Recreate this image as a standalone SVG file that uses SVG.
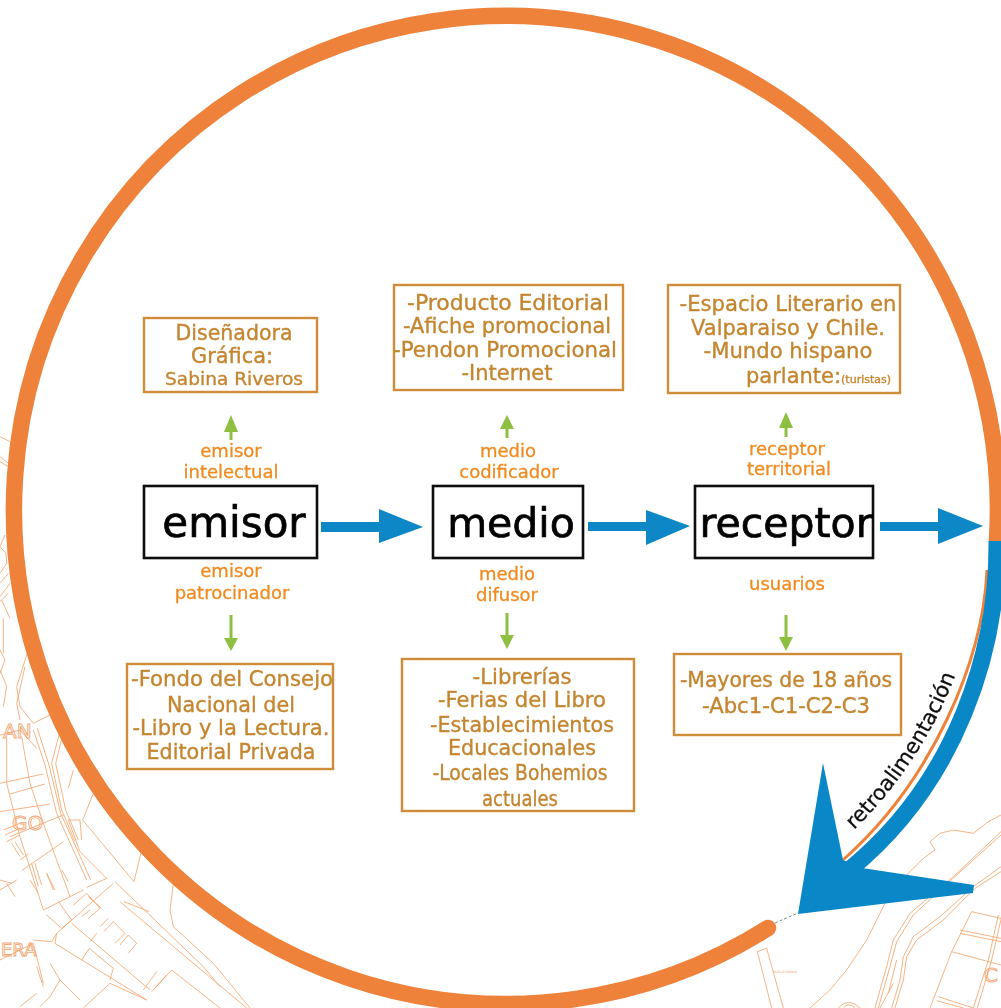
<svg xmlns="http://www.w3.org/2000/svg" width="1001" height="1008" viewBox="0 0 1001 1008">
<defs>
<filter id="soft" x="-5%" y="-5%" width="110%" height="110%"><feGaussianBlur stdDeviation="0.6"/></filter>
<filter id="softer" x="-5%" y="-5%" width="110%" height="110%"><feGaussianBlur stdDeviation="0.3"/></filter>
</defs>
<style>
text{font-family:"DejaVu Sans","Liberation Sans",sans-serif;}
.box{fill:#fff;stroke:#d08c38;stroke-width:2.4;}
.main{fill:#fff;stroke:#111;stroke-width:2.6;}
.t{fill:#c4852f;stroke:#c4852f;stroke-width:.35;font-size:21px;text-anchor:middle;}
.l{fill:#f08a1e;stroke:#f08a1e;stroke-width:.3;font-size:18px;text-anchor:middle;}
.n{fill:#000;stroke:#000;stroke-width:.7;font-size:42px;text-anchor:middle;}
.map path{fill:none;stroke:#f3a873;stroke-width:2.6;}
.mt{fill:none;stroke:#f3a873;stroke-width:.9;}
.gs{fill:none;stroke:#8fbf3f;stroke-width:3;}
.gh{fill:#8fbf3f;}
.blue{fill:#0a87c6;}
</style>
<rect width="1001" height="1008" fill="#fff"/>
<g id="map" class="map">
<g transform="translate(0 650) scale(.33333)">
<path d="M85 0L50 110L60 170L100 220L150 195M0 255L60 240L110 295M100 240L135 345L170 490L220 600L260 690M112 235L147 345L182 490L232 600L272 690"/>
<path d="M178 250L155 340L185 480L225 575M188 255L167 340L197 480L235 570"/>
<path d="M20 260L20 400L60 560L130 780M65 260L90 400L130 520L210 740M0 400L130 372M30 432L135 402M0 485L150 462M30 560L190 495M65 662L190 575M130 780L250 720M260 712L320 685L240 605L205 510L240 510L245 570"/>
<path d="M280 430L248 510L402 695L425 600M520 700L510 780L520 830L640 940L750 1074"/>
<path d="M345 695L610 950L660 1010M360 755L740 1074M372 755L448 785M170 850L340 700M170 850L165 880L440 1050M215 820L450 1020M140 795L185 835L215 810L175 755M220 765L260 730L300 775L265 805M312 845L340 815L375 850L345 880M360 885L385 855L410 880L385 910M430 1020L470 965M455 1025L515 960L660 1074M100 870L155 875L170 850M245 930L268 895L340 955L330 990M0 690L35 700M0 720L50 690M20 700L45 740"/>
<path d="M150 940L180 990L150 1040L120 1070M180 990L240 1050M110 950L130 1010M60 1070L110 1030M0 930L100 880L130 1000M250 1074L330 1000L440 1050"/>
<path d="M90 690L115 730M140 670L160 720M185 660L205 695M220 360L205 415M0 70L15 30L0 0M10 540L60 520M15 555L60 535M20 575L60 555M35 580L60 620M45 575L70 615M60 630L85 612M95 640L115 710M105 640L125 705M140 670L165 720M265 740L305 775M270 780L245 800M300 830L325 805M270 875L290 850M460 1020L500 975"/>
</g>
<g transform="translate(0 420) scale(.33333)">
<path d="M0 50L30 65M0 110L25 130M0 125L25 140M15 345L0 380L18 400L20 430L0 460M25 460L0 490M30 490L0 530M5 540L30 595M25 520L0 545M0 750L20 800L10 860M75 740L50 850L60 900M10 595V700"/>
</g>
<g transform="translate(740 800) scale(.33333)">
<path d="M783 45L745 65L700 100L640 90L600 100L570 125L585 150L550 175L505 220L440 300L380 420L320 510L270 570L210 624"/>
<path d="M783 95L640 230L510 340L460 420L440 500L405 624M783 105L650 225L520 345L470 425L450 500L415 624"/>
<path d="M783 200L700 260L600 350L520 410L490 470L480 540L455 624M783 215L705 265L610 360L530 420L500 470L490 540L465 624"/>
<path d="M695 335L783 355M695 335L635 455L570 624M660 390L783 415M660 400L783 425M635 455L783 495M595 590L700 624M590 602L670 624M775 345L745 480L700 624M785 350L755 480L712 624"/>
<path d="M52 455L80 445L130 624M52 455L95 624M295 624Q325 590 360 624M310 624Q325 605 345 624M460 550L420 624M470 480L445 580"/>
</g>
</g>
<text x="3" y="738" font-size="20" class="mt">AN</text>
<text x="12" y="830" font-size="20" class="mt">GO</text>
<text x="1" y="956" font-size="18" class="mt">ERA</text>
<text x="984" y="982" font-size="20" class="mt">C</text>
<text x="773" y="973" font-size="3" fill="#f3a873">MUELLE BARON</text>
<ellipse cx="504" cy="508" rx="489" ry="490" fill="#fff"/>
<g id="connectors">
<g id="ring">
<path d="M997 540A492 494 0 1 0 768 928" fill="none" stroke="#ee823b" stroke-width="16.5" stroke-linecap="round"/>
<path d="M775 923L798 913" fill="none" stroke="#888" stroke-width="1" stroke-dasharray="3 2"/>
<path d="M987 570C983 660 933 780 843 860" fill="none" stroke="#ee823b" stroke-width="3"/>
<path d="M997 541C998 650 957 782 849 870" fill="none" stroke="#0a87c6" stroke-width="17"/>
<polygon class="blue" points="798,914 823,763 843,860 862,868 974,885 973,893"/>
</g>
<g id="flow" filter="url(#softer)">
<path class="blue" d="M321 522H379V509L423 527L379 543V532H321Z"/>
<path class="blue" d="M588 522H646V510L690 526L646 545V531H588Z"/>
<path class="blue" d="M880 522H938V508L983 526L938 544V531H880Z"/>
</g>
<g id="up-down" filter="url(#softer)">
<path class="gs" d="M231 440V430"/><polygon class="gh" points="231,415 238,432 224,432"/>
<path class="gs" d="M507 438V427"/><polygon class="gh" points="507,415 514,429 500,429"/>
<path class="gs" d="M786 437V427"/><polygon class="gh" points="786,412 793,428 779,428"/>
<path class="gs" d="M231 615V640"/><polygon class="gh" points="231,651 238,638 224,638"/>
<path class="gs" d="M507 613V637"/><polygon class="gh" points="507,649 514,635 500,635"/>
<path class="gs" d="M786 615V639"/><polygon class="gh" points="786,651 793,637 779,637"/>
</g>
</g>
<g id="node-emisor" filter="url(#soft)"><rect class="main" x="144" y="486" width="173" height="72"/><text class="n" x="234" y="537">emisor</text></g>
<g id="node-medio" filter="url(#soft)"><rect class="main" x="433" y="486" width="150" height="72"/><text class="n" x="511" y="537" style="font-size:41px">medio</text></g>
<g id="node-receptor" filter="url(#soft)"><rect class="main" x="695" y="486" width="178" height="72"/><text class="n" x="786" y="537" style="font-size:41px">receptor</text></g>
<g id="labels" filter="url(#soft)">
<text class="l" x="231" y="457">emisor</text><text class="l" x="231" y="478">intelectual</text>
<text class="l" x="508" y="457">medio</text><text class="l" x="509" y="478">codificador</text>
<text class="l" x="787" y="455">receptor</text><text class="l" x="789" y="475">territorial</text>
<text class="l" x="231" y="577">emisor</text><text class="l" x="232" y="599">patrocinador</text>
<text class="l" x="507" y="580">medio</text><text class="l" x="507" y="601">difusor</text>
<text class="l" x="787" y="590">usuarios</text>
</g>
<g id="node-disenadora" filter="url(#soft)"><rect class="box" x="144" y="318" width="173" height="74"/>
<text class="t" x="234" y="340" textLength="117" lengthAdjust="spacingAndGlyphs">Diseñadora</text><text class="t" x="232" y="363" textLength="82" lengthAdjust="spacingAndGlyphs">Gráfica:</text><text class="t" x="234" y="385" style="font-size:18px" textLength="138" lengthAdjust="spacingAndGlyphs">Sabina Riveros</text></g>
<g id="node-producto" filter="url(#soft)"><rect class="box" x="394" y="285" width="229" height="105"/>
<text class="t" x="508" y="310" textLength="202" lengthAdjust="spacingAndGlyphs">-Producto Editorial</text><text class="t" x="507" y="333" textLength="208" lengthAdjust="spacingAndGlyphs">-Afiche promocional</text><text class="t" x="505" y="357" textLength="224" lengthAdjust="spacingAndGlyphs">-Pendon Promocional</text><text class="t" x="507" y="380" textLength="91" lengthAdjust="spacingAndGlyphs">-Internet</text></g>
<g id="node-espacio" filter="url(#soft)"><rect class="box" x="668" y="285" width="232" height="108"/>
<text class="t" x="788" y="311" textLength="217" lengthAdjust="spacingAndGlyphs">-Espacio Literario en</text><text class="t" x="788" y="335" textLength="194" lengthAdjust="spacingAndGlyphs">Valparaiso y Chile.</text><text class="t" x="788" y="358" textLength="169" lengthAdjust="spacingAndGlyphs">-Mundo hispano</text><text class="t" x="746" y="383" style="text-anchor:start">parlante:<tspan style="font-size:11px">(turistas)</tspan></text></g>
<g id="node-fondo" filter="url(#soft)"><rect class="box" x="127" y="664" width="206" height="105"/>
<text class="t" x="232" y="686" textLength="202" lengthAdjust="spacingAndGlyphs">-Fondo del Consejo</text><text class="t" x="231" y="712" textLength="128" lengthAdjust="spacingAndGlyphs">Nacional del</text><text class="t" x="231" y="735" textLength="197" lengthAdjust="spacingAndGlyphs">-Libro y la Lectura.</text><text class="t" x="231" y="759" textLength="169" lengthAdjust="spacingAndGlyphs">Editorial Privada</text></g>
<g id="node-librerias" filter="url(#soft)"><rect class="box" x="402" y="659" width="232" height="152"/>
<text class="t" x="522" y="684" textLength="99" lengthAdjust="spacingAndGlyphs">-Librerías</text><text class="t" x="522" y="707" textLength="168" lengthAdjust="spacingAndGlyphs">-Ferias del Libro</text><text class="t" x="522" y="732" textLength="184" lengthAdjust="spacingAndGlyphs">-Establecimientos</text><text class="t" x="522" y="755" textLength="148" lengthAdjust="spacingAndGlyphs">Educacionales</text><text class="t" x="520" y="780" textLength="175" lengthAdjust="spacingAndGlyphs">-Locales Bohemios</text><text class="t" x="520" y="806" textLength="76" lengthAdjust="spacingAndGlyphs">actuales</text></g>
<g id="node-mayores" filter="url(#soft)"><rect class="box" x="674" y="654" width="227" height="81"/>
<text class="t" x="786" y="687" textLength="212" lengthAdjust="spacingAndGlyphs">-Mayores de 18 años</text><text class="t" x="786" y="713" textLength="168" lengthAdjust="spacingAndGlyphs">-Abc1-C1-C2-C3</text></g>
<path id="fbpath" d="M854 830C896 789 935 733 958 668" fill="none"/>
<text id="label-retro" font-size="21" fill="#111" stroke="#111" stroke-width=".3" filter="url(#softer)"><textPath href="#fbpath">retroalimentación</textPath></text>
</svg>
